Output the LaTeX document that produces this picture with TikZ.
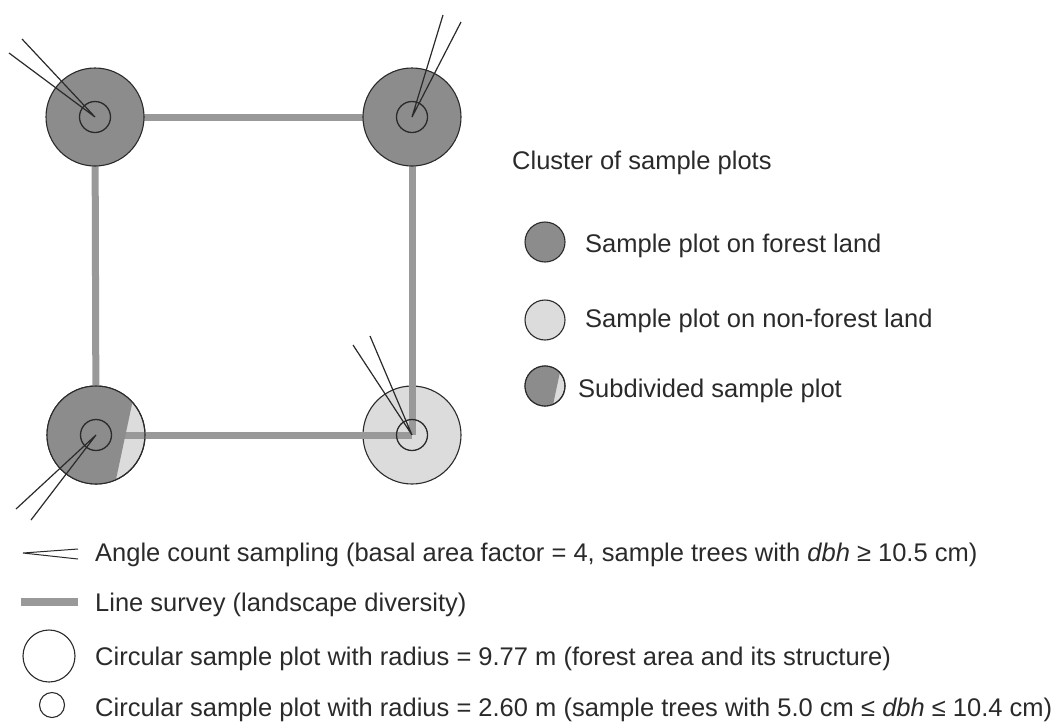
\documentclass[tikz,border=0pt]{standalone}
\usepackage{fontspec}
\setmainfont{Liberation Sans}
\usetikzlibrary{calc}
\definecolor{forest}{HTML}{8C8C8C}
\definecolor{openland}{HTML}{DCDCDC}
\definecolor{survey}{HTML}{999999}
\definecolor{ink}{HTML}{2A2A2A}
\begin{document}
\begin{tikzpicture}[x=1pt,y=-1pt,
  plotdisc/.style={circle,draw=ink,line width=1.1pt,minimum size=98pt,inner sep=0pt,outer sep=0pt},
  innerring/.style={circle,draw=ink,line width=1.3pt,minimum size=31pt,inner sep=0pt,outer sep=0pt},
  surveyline/.style={draw=survey,line width=7pt},
  ray/.style={draw=ink,line width=1.2pt},
  txt/.style={anchor=base west,inner sep=0pt,text=ink,font=\fontsize{25.5}{30}\selectfont},
  legdisc/.style={circle,draw=ink,line width=1.1pt,minimum size=40pt,inner sep=0pt,outer sep=0pt}
]
\useasboundingbox (0,0) rectangle (1056,721);

% plot centres of the cluster
\coordinate (ctl) at (95,117);
\coordinate (ctr) at (412,117);
\coordinate (cbl) at (96,435);
\coordinate (cbr) at (412,435);

% non-forest discs first, so survey lines run over them
\node[plotdisc,fill=openland] (br) at (cbr) {};
\node[plotdisc,fill=openland] (bl) at (cbl) {};

% line survey
\draw[surveyline] (ctl) -- (ctr);
\draw[surveyline] (ctl) -- (cbl);
\draw[surveyline] (ctr) -- (cbr);
\draw[surveyline] (cbl) -- (cbr);

% subdivided plot: forest part
\fill[forest] ($(cbl)+(-42:49)$) arc[start angle=-42,end angle=-294,radius=49] -- cycle;
\draw[ink,line width=1.1pt] (cbl) circle[radius=49];

% forest plots
\node[plotdisc,fill=forest] (tl) at (ctl) {};
\node[plotdisc,fill=forest] (tr) at (ctr) {};

% small inner plots
\node[innerring] (itl) at (ctl) {};
\node[innerring] (itr) at (ctr) {};
\node[innerring] (ibl) at (cbl) {};
\node[innerring] (ibr) at (cbr) {};

% angle count sampling rays
\coordinate (tla) at (9,53);   \coordinate (tlb) at (22,39);
\coordinate (tra) at (443,15); \coordinate (trb) at (461,22);
\coordinate (bla) at (16,509); \coordinate (blb) at (31,520);
\coordinate (bra) at (353,345);\coordinate (brb) at (370,336);
\draw[ray] (tla) -- (ctl) -- (tlb);
\draw[ray] (tra) -- (ctr) -- (trb);
\draw[ray] (bla) -- (cbl) -- (blb);
\draw[ray] (bra) -- (cbr) -- (brb);

% legend on the right
\node[txt] (title) at (512,169) {Cluster of sample plots};
\node[legdisc,fill=forest] (kf) at (545,242) {};
\node[legdisc,fill=openland] (kn) at (545,320) {};
\coordinate (ks) at (545,386);
\node[legdisc,fill=openland] (ksd) at (ks) {};
\fill[forest] ($(ks)+(-42:20)$) arc[start angle=-42,end angle=-294,radius=20] -- cycle;
\draw[ink,line width=1.1pt] (ks) circle[radius=20];
\node[txt] (lf) at (585,252) {Sample plot on forest land};
\node[txt] (ln) at (585,327) {Sample plot on non-forest land};
\node[txt] (ls) at (578,397) {Subdivided sample plot};

% legend at the bottom
\coordinate (av) at (23,553);
\coordinate (aa) at (78,549);
\coordinate (ab) at (78,559);
\draw[ray,line width=1pt] (aa) -- (av) -- (ab);
\coordinate (sa) at (21,602);
\coordinate (sb) at (78,602);
\draw[surveyline,line width=8pt] (sa) -- (sb);
\node[circle,draw=ink,line width=1.1pt,minimum size=52pt,inner sep=0pt] (kbig) at (49,656) {};
\node[circle,draw=ink,line width=1.1pt,minimum size=25pt,inner sep=0pt] (ksmall) at (52,705) {};
\node[txt] (la) at (95,561) {Angle count sampling (basal area factor = 4, sample trees with \textit{dbh} ≥ 10.5 cm)};
\node[txt] (lv) at (95,611) {Line survey (landscape diversity)};
\node[txt] (lb) at (95,665) {Circular sample plot with radius = 9.77 m (forest area and its structure)};
\node[txt] (lc) at (95,716) {Circular sample plot with radius = 2.60 m (sample trees with 5.0 cm ≤ \textit{dbh} ≤ 10.4 cm)};
\end{tikzpicture}
\end{document}
